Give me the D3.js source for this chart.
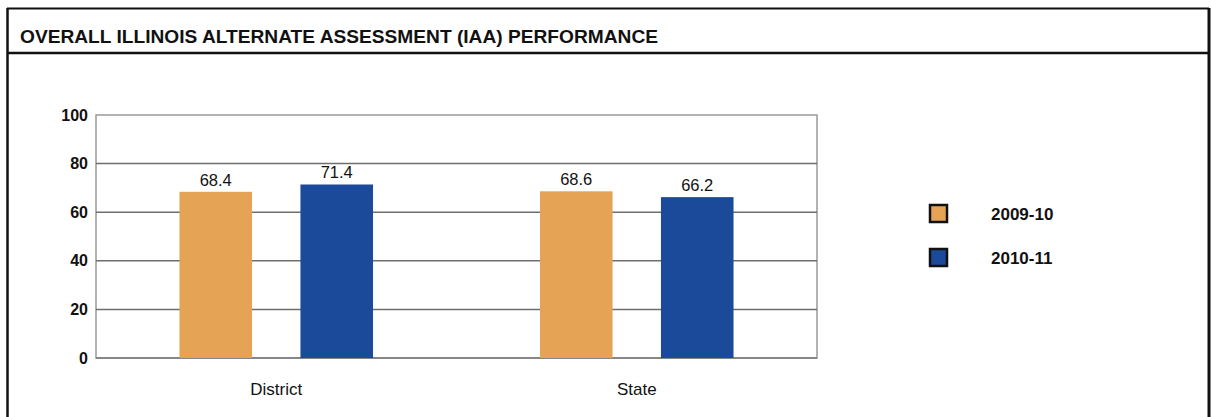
<!DOCTYPE html>
<html>
<head>
<meta charset="utf-8">
<script src="https://cdn.jsdelivr.net/npm/d3@7"></script>
<style>
  body { margin: 0; background: #fff; }
  svg { display: block; }
</style>
</head>
<body>
<div id="chart"></div>
<script>
// Chart data
const categories = ["District", "State"];
const seriesNames = ["2009-10", "2010-11"];
const values2009 = [68.4, 68.6];
const values2010 = [71.4, 66.2];
const yTicks = [0, 20, 40, 60, 80, 100];
const title = "OVERALL ILLINOIS ALTERNATE ASSESSMENT (IAA) PERFORMANCE";

const colors = ["#E5A455", "#1B4A9A"];

const W = 1212, H = 417;
const svg = d3.select("#chart").append("svg")
    .attr("width", W)
    .attr("height", H);

// Outer frame + header
svg.append("line").attr("x1", 7).attr("x2", 1209).attr("y1", 8.5).attr("y2", 8.5)
    .attr("stroke", "#111").attr("stroke-width", 2);
svg.append("line").attr("x1", 7).attr("x2", 1209).attr("y1", 53).attr("y2", 53)
    .attr("stroke", "#111").attr("stroke-width", 2.5);
svg.append("line").attr("x1", 7.5).attr("x2", 7.5).attr("y1", 8).attr("y2", H)
    .attr("stroke", "#111").attr("stroke-width", 2.5);
svg.append("line").attr("x1", 1209).attr("x2", 1209).attr("y1", 8).attr("y2", H)
    .attr("stroke", "#111").attr("stroke-width", 3);

svg.append("text")
    .attr("x", 20)
    .attr("y", 43)
    .attr("font-family", "'Liberation Sans Narrow', 'Arial Narrow', 'Liberation Sans', sans-serif")
    .attr("font-weight", "bold")
    .attr("font-size", 19)
    .attr("fill", "#111")
    .attr("textLength", 638)
    .attr("lengthAdjust", "spacingAndGlyphs")
    .text(title);

// Plot area
const plot = { left: 96, right: 817, top: 115, bottom: 358 };

const x0 = d3.scaleBand()
    .domain(categories)
    .range([plot.left, plot.right])
    .paddingInner(0)
    .paddingOuter(0);

const x1 = d3.scaleBand()
    .domain(seriesNames)
    .range([0, x0.bandwidth()])
    .paddingInner(0.4)
    .paddingOuter(0.69);

const y = d3.scaleLinear()
    .domain([0, 100])
    .range([plot.bottom, plot.top]);

// plot frame
svg.append("rect")
    .attr("x", plot.left).attr("y", plot.top)
    .attr("width", plot.right - plot.left).attr("height", plot.bottom - plot.top)
    .attr("fill", "none").attr("stroke", "#999").attr("stroke-width", 1.5);

// gridlines
svg.append("g")
    .selectAll("line")
    .data(yTicks.filter(t => t > 0 && t < 100))
    .enter()
    .append("line")
    .attr("x1", plot.left).attr("x2", plot.right)
    .attr("y1", d => y(d)).attr("y2", d => y(d))
    .attr("stroke", "#6e6e6e").attr("stroke-width", 1.5);

// baseline
svg.append("line")
    .attr("x1", plot.left).attr("x2", plot.right)
    .attr("y1", y(0)).attr("y2", y(0))
    .attr("stroke", "#777").attr("stroke-width", 1.5);

// y axis labels
const yAxis = svg.append("g")
    .attr("transform", `translate(${plot.left},0)`)
    .call(d3.axisLeft(y).tickValues(yTicks).tickSize(0).tickPadding(8));
yAxis.select(".domain").remove();
yAxis.selectAll("text")
    .attr("font-family", "'Liberation Sans', Arial, sans-serif")
    .attr("font-size", 16)
    .attr("font-weight", "bold")
    .attr("fill", "#111");

// bars
const rows = categories.map((c, i) => ({
    category: c,
    vals: [
        { series: seriesNames[0], value: values2009[i], color: colors[0] },
        { series: seriesNames[1], value: values2010[i], color: colors[1] }
    ]
}));

const groups = svg.selectAll(".group")
    .data(rows)
    .enter()
    .append("g")
    .attr("class", "group")
    .attr("transform", d => `translate(${x0(d.category)},0)`);

groups.selectAll("rect")
    .data(d => d.vals)
    .enter()
    .append("rect")
    .attr("x", d => x1(d.series))
    .attr("y", d => y(d.value))
    .attr("width", x1.bandwidth())
    .attr("height", d => y(0) - y(d.value))
    .attr("fill", d => d.color);

groups.selectAll(".val")
    .data(d => d.vals)
    .enter()
    .append("text")
    .attr("class", "val")
    .attr("x", d => x1(d.series) + x1.bandwidth() / 2)
    .attr("y", d => y(d.value) - 6)
    .attr("text-anchor", "middle")
    .attr("font-family", "'Liberation Sans', Arial, sans-serif")
    .attr("font-size", 16.5)
    .attr("fill", "#111")
    .text(d => d.value.toFixed(1));

// category labels
svg.selectAll(".cat")
    .data(categories)
    .enter()
    .append("text")
    .attr("class", "cat")
    .attr("x", d => x0(d) + x0.bandwidth() / 2)
    .attr("y", 395)
    .attr("text-anchor", "middle")
    .attr("font-family", "'Liberation Sans Narrow', 'Arial Narrow', 'Liberation Sans', sans-serif")
    .attr("font-size", 17)
    .attr("fill", "#111")
    .text(d => d);

// legend
const legend = svg.append("g")
    .selectAll("g")
    .data(seriesNames)
    .enter()
    .append("g")
    .attr("transform", (d, i) => `translate(930,${205 + i * 44})`);

legend.append("rect")
    .attr("width", 17)
    .attr("height", 17)
    .attr("fill", (d, i) => colors[i])
    .attr("stroke", "#111")
    .attr("stroke-width", 2.5);

legend.append("text")
    .attr("x", 61)
    .attr("y", 15)
    .attr("font-family", "'Liberation Sans Narrow', 'Arial Narrow', 'Liberation Sans', sans-serif")
    .attr("font-weight", "bold")
    .attr("font-size", 17)
    .attr("fill", "#111")
    .text(d => d);
</script>
</body>
</html>
